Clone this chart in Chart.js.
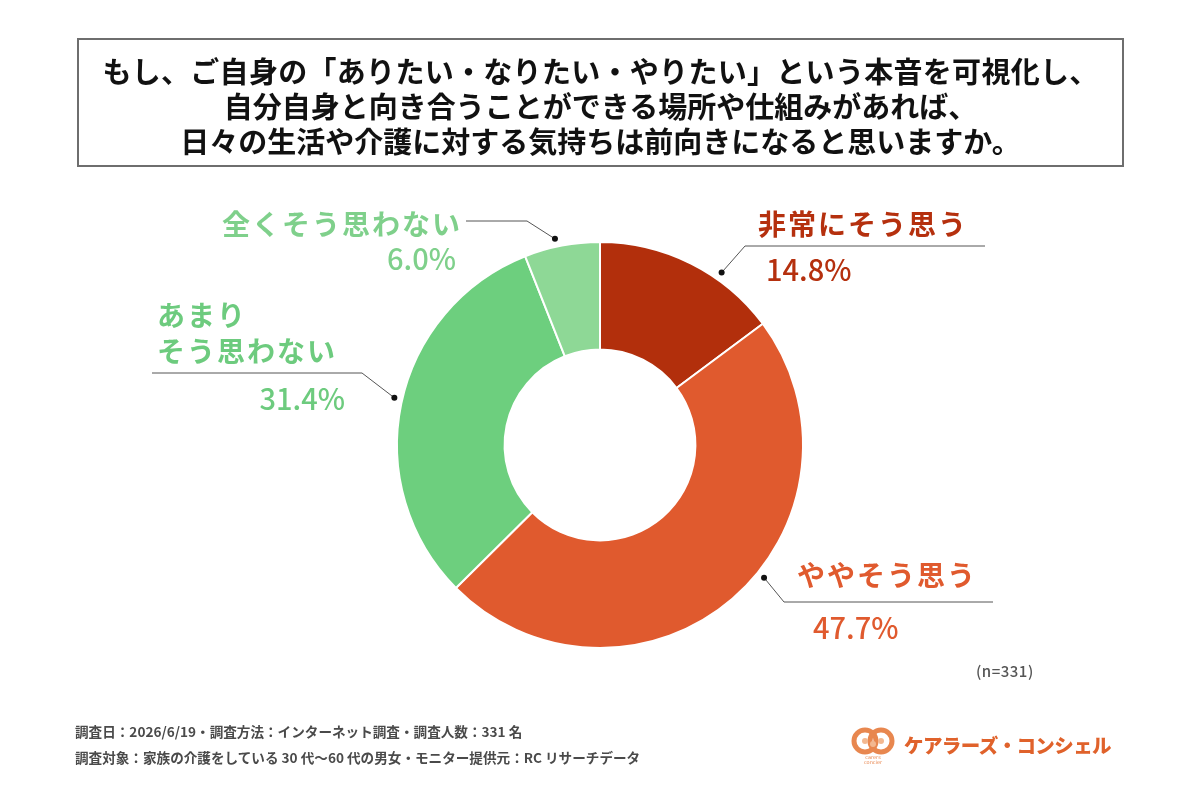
<!DOCTYPE html>
<html lang="ja">
<head>
<meta charset="utf-8">
<script src="https://cdn.jsdelivr.net/npm/chart.js@4.4.1/dist/chart.umd.min.js"></script>
<style>
  html, body { margin: 0; padding: 0; background: #fff; }
  body { width: 1200px; height: 800px; position: relative; overflow: hidden;
         font-family: "Noto Sans CJK JP", "Noto Sans", sans-serif; }
  #pie { position: absolute; left: 0; top: 0; }
  .title { position: absolute; left: 77px; top: 38px; width: 1043px; height: 125px;
           border: 2px solid #6e6e6e; text-align: center; font-weight: 700;
           font-size: 29px; line-height: 35px; color: #111; box-sizing: content-box; }
  .title div:first-child { margin-top: 13px; letter-spacing: 0.3px; }
  .n { position: absolute; left: 976px; top: 660px; font-size: 15px; color: #555; font-weight: 500; letter-spacing: 0.5px; }
  .foot { position: absolute; left: 75px; font-size: 13.6px; font-weight: 700; color: #4a4a4a; white-space: nowrap; }
  .logo { position: absolute; left: 850px; top: 724px; height: 40px; display: flex; align-items: center; }
  .logo span { font-size: 19.5px; font-weight: 900; color: #e0622b; margin-left: 8px; letter-spacing: -0.6px; }
</style>
</head>
<body>
<canvas id="pie" width="1200" height="800"></canvas>

<div class="title">
  <div>もし、ご自身の「ありたい・なりたい・やりたい」という本音を可視化し、</div>
  <div>自分自身と向き合うことができる場所や仕組みがあれば、</div>
  <div>日々の生活や介護に対する気持ちは前向きになると思いますか。</div>
</div>

<div class="n">(n=331)</div>
<div class="foot" style="top:721px">調査日：2026/6/19・調査方法：インターネット調査・調査人数：331 名</div>
<div class="foot" style="top:747px">調査対象：家族の介護をしている 30 代〜60 代の男女・モニター提供元：RC リサーチデータ</div>

<div class="logo">
  <svg width="46" height="40" viewBox="0 0 46 40">
    <circle cx="15" cy="17" r="11" fill="none" stroke="#e8874f" stroke-width="5"/>
    <circle cx="31" cy="17" r="11" fill="none" stroke="#e8874f" stroke-width="5"/>
    <circle cx="15" cy="17" r="3" fill="#f3b890"/>
    <circle cx="31" cy="17" r="3" fill="#f3b890"/>
    <circle cx="23" cy="20" r="3" fill="#f3b890"/>
    <text x="23" y="35" font-size="5" fill="#e8874f" text-anchor="middle" font-family="DejaVu Sans">carers</text>
    <text x="23" y="40" font-size="5" fill="#e8874f" text-anchor="middle" font-family="DejaVu Sans">concier</text>
  </svg>
  <span>ケアラーズ・コンシェル</span>
</div>

<script>
// answers, clockwise from 12 o'clock
const categories = ['非常にそう思う', 'ややそう思う', 'あまりそう思わない', '全くそう思わない'];
const values = [14.8, 47.7, 31.4, 6.0];
const sliceColors = ['#b22f0c', '#e05a2e', '#6dcf7e', '#8ed896'];
const textColors = ['#b5300e', '#e05a2e', '#6dcb7e', '#7fd08b'];

// callout placement (t = where along the slice the dot sits)
const callouts = [
    { t: 0.66, elbow: [745, 246], lineEnd: 985, wrap: 0,
      label: { x: 758, y: 224, align: 'left' }, pct: { x: 766, y: 270, align: 'left' } },
    { t: 0.44, elbow: [784, 602], lineEnd: 993, wrap: 0,
      label: { x: 797, y: 575, align: 'left' }, pct: { x: 813, y: 628, align: 'left' } },
    { t: 0.51, elbow: [362, 373], lineEnd: 152, wrap: 3,
      label: { x: 157, y: 315, align: 'left' }, pct: { x: 345, y: 399, align: 'right' } },
    { t: 0.43, elbow: [527, 221], lineEnd: 466, wrap: 0,
      label: { x: 462, y: 224, align: 'right' }, pct: { x: 456, y: 259, align: 'right' } }
];

const calloutPlugin = {
    id: 'callouts',
    afterDraw(chart) {
        const ctx = chart.ctx;
        const arcs = chart.getDatasetMeta(0).data;
        ctx.save();
        arcs.forEach((arc, i) => {
            const c = callouts[i];
            const a = arc.startAngle + (arc.endAngle - arc.startAngle) * c.t;
            const r = arc.outerRadius + 8;
            const dx = arc.x + Math.cos(a) * r;
            const dy = arc.y + Math.sin(a) * r;

            // leader line
            ctx.strokeStyle = '#555';
            ctx.lineWidth = 1;
            ctx.beginPath();
            ctx.moveTo(dx, dy);
            ctx.lineTo(c.elbow[0], c.elbow[1]);
            ctx.lineTo(c.lineEnd, c.elbow[1]);
            ctx.stroke();
            ctx.fillStyle = '#111';
            ctx.beginPath();
            ctx.arc(dx, dy, 3, 0, Math.PI * 2);
            ctx.fill();

            // texts
            ctx.fillStyle = textColors[i];
            ctx.textBaseline = 'middle';
            ctx.font = '700 28px "Noto Sans CJK JP"';
            ctx.letterSpacing = '2px';
            const lines = c.wrap ? [categories[i].slice(0, c.wrap), categories[i].slice(c.wrap)] : [categories[i]];
            ctx.textAlign = c.label.align;
            lines.forEach((ln, k) => ctx.fillText(ln, c.label.x, c.label.y + k * 36));
            ctx.font = '500 29px "Noto Sans CJK JP"';
            ctx.letterSpacing = '0px';
            ctx.textAlign = c.pct.align;
            ctx.fillText(values[i].toFixed(1) + '%', c.pct.x, c.pct.y);
        });
        ctx.restore();
    }
};

function createDoughnut() {
    const ctx = document.getElementById('pie').getContext('2d');
    new Chart(ctx, {
        type: 'doughnut',
        data: {
            labels: categories,
            datasets: [{
                data: values,
                backgroundColor: sliceColors,
                borderColor: '#ffffff',
                borderWidth: 2
            }]
        },
        options: {
            responsive: false,
            animation: false,
            cutout: '47%',
            layout: { padding: { top: 241, bottom: 151, left: 0, right: 0 } },
            plugins: {
                legend: { display: false },
                tooltip: { enabled: false }
            }
        },
        plugins: [calloutPlugin]
    });
}

document.fonts.load('700 28px "Noto Sans CJK JP"').then(createDoughnut, createDoughnut);
</script>
</body>
</html>
